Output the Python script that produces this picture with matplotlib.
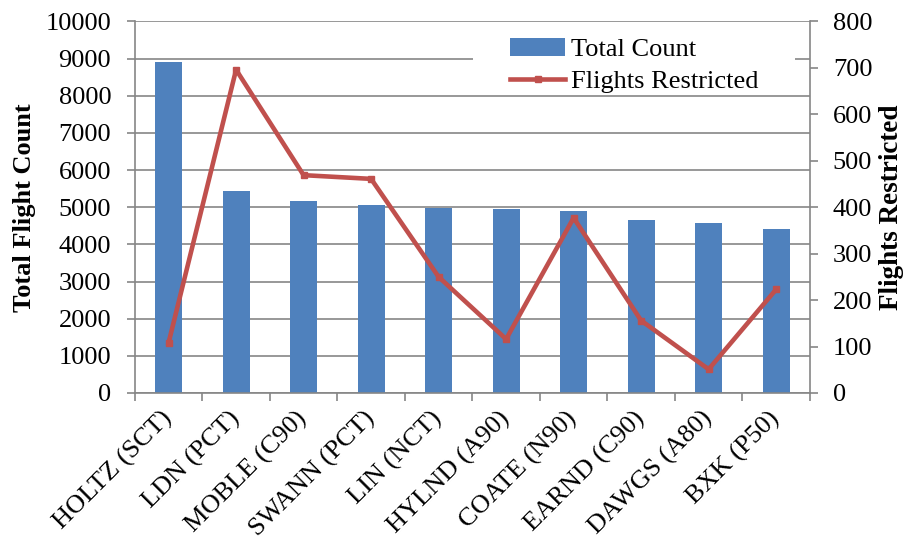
import matplotlib.pyplot as plt
from matplotlib.patches import Rectangle
import numpy as np

plt.rcParams['font.family'] = ['Liberation Serif', 'DejaVu Serif']

fixes = ['HOLTZ (SCT)', 'LDN (PCT)', 'MOBLE (C90)', 'SWANN (PCT)', 'LIN (NCT)',
         'HYLND (A90)', 'COATE (N90)', 'EARND (C90)', 'DAWGS (A80)', 'BXK (P50)']
total_count = [8900, 5435, 5175, 5060, 4970, 4945, 4900, 4655, 4575, 4405]
flights_restricted = [108, 696, 469, 461, 250, 116, 377, 156, 51, 223]

blue = '#4F81BD'
red = '#C0504D'
gray = '#868686'

fig = plt.figure(figsize=(9.11, 5.44), dpi=100)
ax = fig.add_axes([0.148, 0.2776, 0.741, 0.683])
ax2 = ax.twinx()

x = np.arange(len(fixes))
bars = ax.bar(x, total_count, width=0.4, color=blue, label='Total Count', zorder=2)
line, = ax2.plot(x, flights_restricted, color=red, lw=3.3, marker='s', ms=4,
                 label='Flights Restricted', zorder=3)

ax.set_xlim(-0.5, len(fixes) - 0.5)
ax.set_ylim(0, 10000)
ax.set_yticks(range(0, 10001, 1000))
ax2.set_ylim(0, 800)
ax2.set_yticks(range(0, 801, 100))

ax.yaxis.grid(True, color=gray, lw=1.2, zorder=0)
ax.set_axisbelow(True)

# category boundaries carry the tick marks, labels sit at centres
ax.set_xticks(np.arange(-0.5, len(fixes), 1.0))
ax.set_xticklabels([])
ax.set_xticks(x, minor=True)
ax.set_xticklabels(fixes, minor=True, rotation=45, ha='right', va='center',
                   rotation_mode='anchor', fontsize=19)
ax.tick_params(axis='x', which='minor', length=0, pad=16)
ax.tick_params(axis='x', which='major', length=5.5, color=gray, width=1.2)
ax.tick_params(axis='y', length=6, color=gray, width=1.2, labelsize=19, pad=11)
ax2.tick_params(axis='y', length=6, color=gray, width=1.2, labelsize=19, pad=10.5)

for a in (ax, ax2):
    for s in a.spines.values():
        s.set_visible(False)
ax.spines['left'].set_visible(True)
ax.spines['bottom'].set_visible(True)
ax2.spines['right'].set_visible(True)
for s in (ax.spines['left'], ax.spines['bottom'], ax2.spines['right']):
    s.set_color(gray)
    s.set_linewidth(1.2)

ax.set_ylabel('Total Flight Count', fontsize=19, fontweight='bold', labelpad=7)
ax2.set_ylabel('Flights Restricted', fontsize=19.5, fontweight='bold', labelpad=5)

# white legend area hides the gridlines behind it
ax.add_patch(Rectangle((473 / 911, 1 - 94 / 544), 322 / 911, 68 / 544,
                       transform=fig.transFigure, facecolor='white',
                       edgecolor='none', zorder=1))

leg = fig.legend([bars, line], ['Total Count', 'Flights Restricted'],
                 loc='upper left', bbox_to_anchor=(510 / 911, 1 - 38 / 544),
                 fontsize=19, frameon=False, handlelength=2.1,
                 handletextpad=0.2, borderpad=0, borderaxespad=0,
                 labelspacing=0.3)

fig.savefig('out.png', dpi=100)
